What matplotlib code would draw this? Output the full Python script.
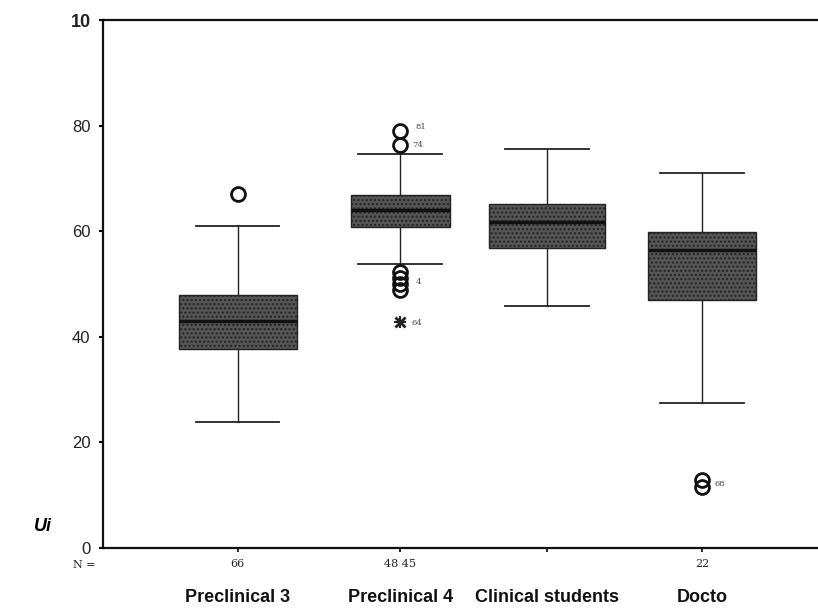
import matplotlib.pyplot as plt

# box plot summary
groups = ["Preclinical 3", "Preclinical 4", "Clinical students", "Docto"]
n_labels = ["66", "48 45", "", "22"]
q1 = [37.7, 60.8, 56.8, 47.0]
med = [43.0, 64.0, 61.7, 56.4]
q3 = [47.9, 66.9, 65.2, 59.8]
wlo = [23.9, 53.8, 45.8, 27.5]
whi = [61.0, 74.6, 75.6, 71.0]
fliers = [[67.0], [79.0, 76.3, 52.3, 51.1, 50.0, 48.9], [], [12.9, 11.6]]
extremes = [[], [42.8], [], []]
ytick_vals = [0, 20, 40, 60, 80, 100]
ytick_labels = ["0", "20", "40", "60", "80", "10"]

fig = plt.figure(figsize=(8.18, 6.11), dpi=100)
ax = fig.add_axes([0.126, 0.103, 0.874, 0.864])

stats = []
for i in range(len(groups)):
    stats.append(dict(med=med[i], q1=q1[i], q3=q3[i], whislo=wlo[i], whishi=whi[i],
                      fliers=fliers[i], label=n_labels[i]))

pos = [1, 2.05, 3, 4]
bp = ax.bxp(stats, positions=pos, widths=[0.76, 0.64, 0.75, 0.70], capwidths=0.54,
            patch_artist=True,
            boxprops=dict(facecolor="#555555", edgecolor="#222222", hatch="....", linewidth=1),
            medianprops=dict(color="#111111", linewidth=2.5),
            whiskerprops=dict(color="#222222", linewidth=1),
            capprops=dict(color="#222222", linewidth=1.3),
            flierprops=dict(marker="o", markerfacecolor="none", markeredgecolor="#111111",
                            markersize=10, markeredgewidth=2))

for i, ex in enumerate(extremes):
    if ex:
        ax.plot([pos[i]] * len(ex), ex, marker="x", linestyle="none", color="#222222",
                markersize=7, markeredgewidth=2)
        ax.plot([pos[i]] * len(ex), ex, marker="+", linestyle="none", color="#222222",
                markersize=9, markeredgewidth=1.5)

# case numbers next to outliers
small = dict(fontsize=6, color="#444444", family="DejaVu Serif")
ax.text(2.15, 79.3, "81", **small)
ax.text(2.13, 76.0, "74", **small)
ax.text(2.15, 50.0, "4", **small)
ax.text(2.12, 42.3, "64", **small)
ax.text(4.08, 11.8, "68", **small)

ax.set_xlim(0.13, 4.75)
ax.set_ylim(0, 100)
ax.set_yticks(ytick_vals)
ax.set_yticklabels(ytick_labels, fontsize=12, family="Liberation Sans", color="#222222")
ax.get_yticklabels()[-1].set_fontweight("bold")
ax.get_yticklabels()[-1].set_fontsize(13)
ax.set_xticks(pos)
ax.set_xticklabels(n_labels, fontsize=8, family="DejaVu Serif", color="#222222")
ax.tick_params(axis="y", length=3, width=1.5, pad=6)
ax.tick_params(axis="x", length=3, width=1.2, pad=5)
for s in ["left", "top", "bottom"]:
    ax.spines[s].set_linewidth(1.6)
    ax.spines[s].set_color("#111111")
ax.spines["right"].set_visible(False)

ax.text(-0.01, -0.033, "N =", transform=ax.transAxes, ha="right", va="center",
        fontsize=8, family="DejaVu Serif", color="#222222")
for p, g in zip([1, 2.05, 3, 4], groups):
    ax.text(p, -9.3, g, ha="center", va="center", fontsize=13, fontweight="bold",
            family=["Liberation Sans Narrow", "Liberation Sans"], color="#111111",
            clip_on=False)
fig.text(0.052, 0.138, "Ui", fontsize=13, fontweight="bold", style="italic",
         family="Liberation Sans", ha="center", va="center")

fig.savefig("out.png", dpi=100)
